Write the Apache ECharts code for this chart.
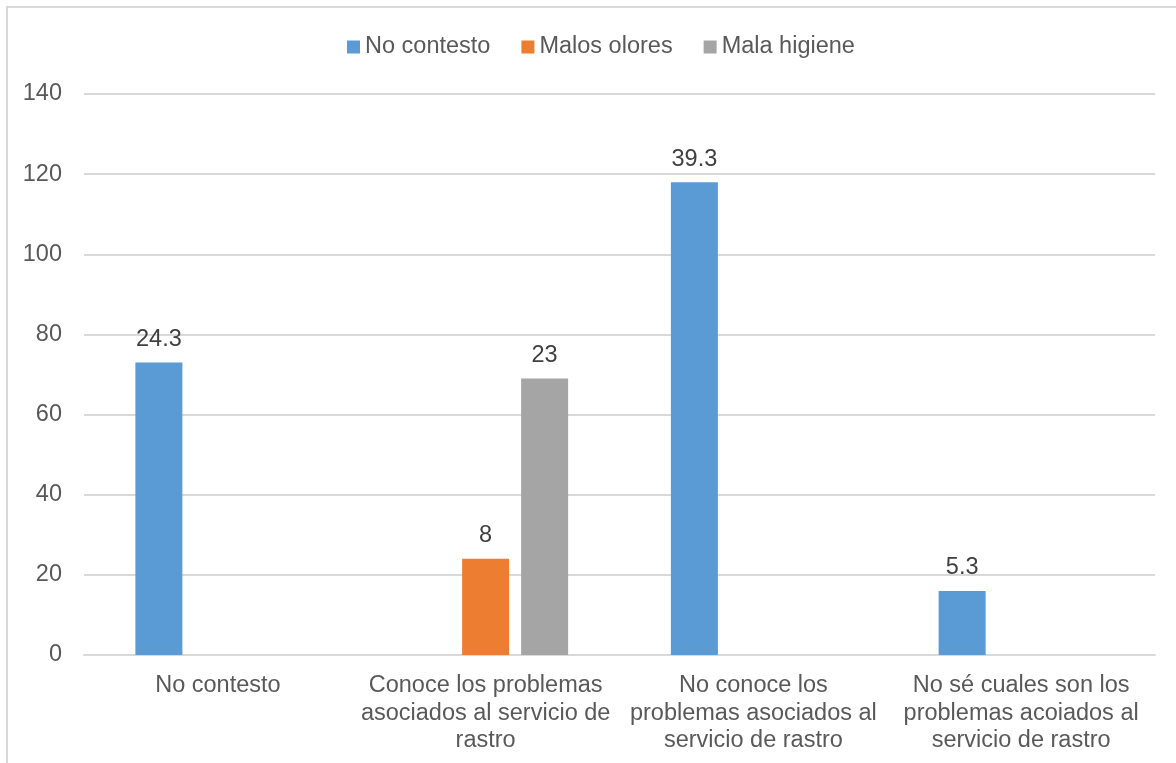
<!DOCTYPE html>
<html>
<head>
<meta charset="utf-8">
<script src="https://cdn.jsdelivr.net/npm/echarts@6/dist/echarts.min.js"></script>
<style>
  html, body { margin: 0; padding: 0; background: #fff; }
  #frame { position: absolute; left: 6px; top: 6px; width: 1200px; height: 800px;
           border-left: 2px solid #d9d9d9; border-top: 2px solid #d9d9d9; box-sizing: border-box; }
  #chart { position: absolute; left: 0; top: 0; width: 1176px; height: 763px; }
</style>
</head>
<body>
<div id="frame"></div>
<div id="chart"></div>
<script>
const categories = [
  'No contesto',
  'Conoce los problemas\nasociados al servicio de\nrastro',
  'No conoce los\nproblemas asociados al\nservicio de rastro',
  'No sé cuales son los\nproblemas acoiados al\nservicio de rastro'
]
const seriesNames = ['No contesto', 'Malos olores', 'Mala higiene']
const noContesto = [73, null, 118, 16]
const malosOlores = [null, 24, null, null]
const malaHigiene = [null, 69, null, null]
const noContestoLabels = ['24.3', '', '39.3', '5.3']
const malosOloresLabels = ['', '8', '', '']
const malaHigieneLabels = ['', '23', '', '']
const colors = ['#5b9bd5', '#ed7d31', '#a5a5a5']

const chart = echarts.init(document.getElementById('chart'))

const makeSeries = (name, data, labels, color) => ({
  name: name,
  type: 'bar',
  data: data,
  barWidth: 47,
  barGap: '25.5%',
  itemStyle: { color: color },
  label: {
    show: true,
    position: 'top',
    distance: 11,
    fontFamily: 'Liberation Sans',
    fontSize: 23.5,
    color: '#404040',
    formatter: p => labels[p.dataIndex]
  }
})

chart.setOption({
  animation: false,
  textStyle: { fontFamily: 'Liberation Sans' },
  legend: {
    top: 30,
    left: 342,
    itemWidth: 13,
    itemHeight: 13,
    itemGap: 31,
    icon: 'rect',
    textStyle: { fontSize: 23.5, color: '#595959', fontFamily: 'Liberation Sans' },
    data: seriesNames
  },
  grid: { left: 84, right: 21, top: 94, bottom: 108 },
  xAxis: {
    type: 'category',
    data: categories,
    axisLine: { lineStyle: { color: '#d9d9d9', width: 2 } },
    axisTick: { show: false },
    axisLabel: {
      interval: 0,
      margin: 17,
      fontSize: 23.5,
      lineHeight: 27.5,
      color: '#595959',
      fontFamily: 'Liberation Sans'
    }
  },
  yAxis: {
    type: 'value',
    min: 0,
    max: 140,
    interval: 20,
    axisLine: { show: false },
    axisTick: { show: false },
    splitLine: { lineStyle: { color: '#d9d9d9', width: 2 } },
    axisLabel: { margin: 22, fontSize: 23.5, color: '#595959', fontFamily: 'Liberation Sans' }
  },
  series: [
    makeSeries(seriesNames[0], noContesto, noContestoLabels, colors[0]),
    makeSeries(seriesNames[1], malosOlores, malosOloresLabels, colors[1]),
    makeSeries(seriesNames[2], malaHigiene, malaHigieneLabels, colors[2])
  ]
})
</script>
</body>
</html>
